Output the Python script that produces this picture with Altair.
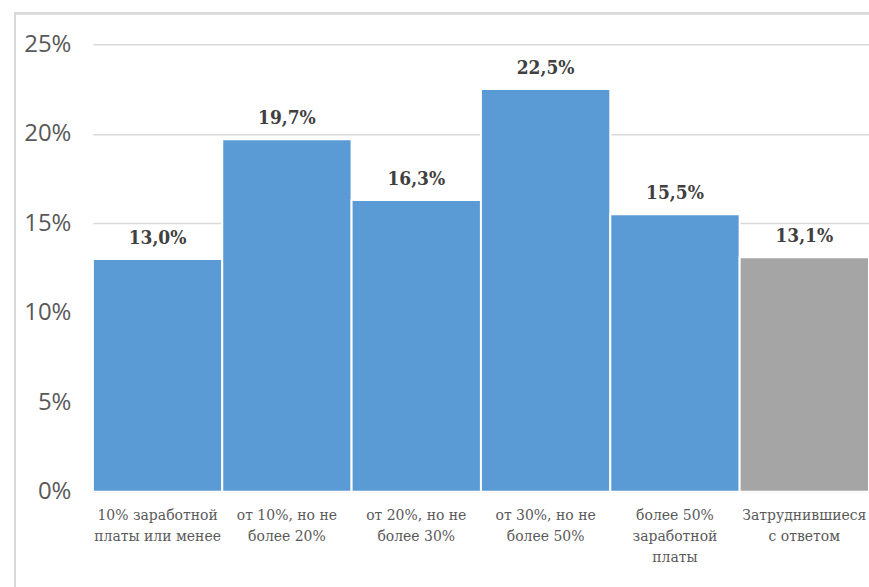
import altair as alt
import pandas as pd

categories = [
    "10% заработной|платы или менее",
    "от 10%, но не|более 20%",
    "от 20%, но не|более 30%",
    "от 30%, но не|более 50%",
    "более 50%|заработной|платы",
    "Затруднившиеся|с ответом",
]
values = [13.0, 19.7, 16.3, 22.5, 15.5, 13.1]
colors = ["#5B9BD5", "#5B9BD5", "#5B9BD5", "#5B9BD5", "#5B9BD5", "#A5A5A5"]
y_ticks = [0, 5, 10, 15, 20, 25]

df = pd.DataFrame({"cat": categories, "value": values, "color": colors})

base = alt.Chart(df).encode(
    x=alt.X("cat:N", sort=categories, scale=alt.Scale(paddingInner=0, paddingOuter=0),
            axis=alt.Axis(title=None, labelAngle=0, labelExpr="split(datum.label, '|')",
                          labelFont="DejaVu Serif", labelFontSize=14, labelColor="#595959",
                          labelLineHeight=21, labelPadding=17, ticks=False,
                          domainColor="#d9d9d9", domainWidth=1.5, grid=False,
                          labelBaseline="top")),
    y=alt.Y("value:Q", scale=alt.Scale(domain=[0, 25], nice=False),
            axis=alt.Axis(title=None, values=y_ticks, labelExpr="datum.value + '%'",
                          labelFont="Open Sans", labelFontSize=24, labelColor="#595959",
                          labelPadding=22, ticks=False, domain=False,
                          gridColor="#d9d9d9", gridWidth=1.5)),
)

bars = base.mark_bar(stroke="white", strokeWidth=2).encode(
    color=alt.Color("color:N", scale=None),
)

text = base.mark_text(baseline="bottom", dy=-11, font="DejaVu Serif Condensed, DejaVu Serif",
                      fontSize=19, fontWeight="bold", color="#404040").encode(
    text="lbl:N",
).transform_calculate(lbl="replace(format(datum.value, '.1f'), '.', ',') + '%'")

frame = alt.Chart(df).mark_rect(fill=None, stroke="#d9d9d9", strokeWidth=2, clip=False).encode(
    x=alt.value(-78), x2=alt.value(800), y=alt.value(-31), y2=alt.value(600)
)

chart = alt.layer(frame, bars, text).properties(
    width=777, height=448,
    padding={"left": 93, "top": 44, "right": 0, "bottom": 95},
    autosize=alt.AutoSizeParams(type="none"),
    background="white",
).configure_view(stroke=None)

chart.save("out.html", embed_options={"renderer": "svg", "actions": False})
